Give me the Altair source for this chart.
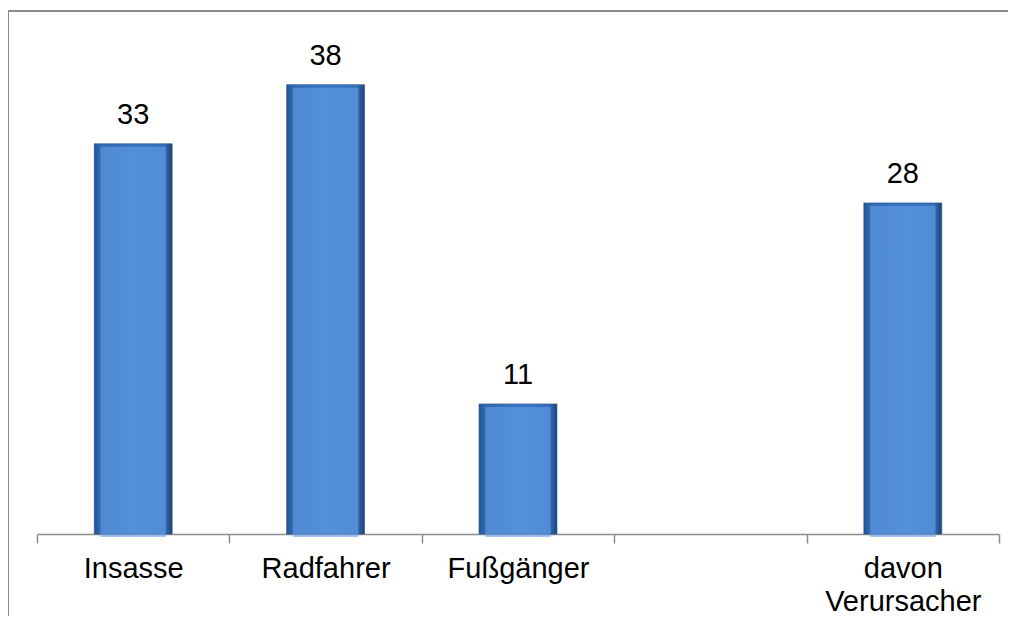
import altair as alt
import pandas as pd

categories = ["Insasse", "Radfahrer", "Fußgänger", " ", "davon Verursacher"]
values = [33, 38, 11, None, 28]

df = pd.DataFrame({"cat": categories, "val": values})

W, H = 962, 473

grad = alt.Gradient(
    gradient="linear", x1=0, x2=1, y1=0, y2=0,
    stops=[
        alt.GradientStop(color="#24528f", offset=0),
        alt.GradientStop(color="#3068b0", offset=0.07),
        alt.GradientStop(color="#3a76c4", offset=0.5),
        alt.GradientStop(color="#356fba", offset=0.9),
        alt.GradientStop(color="#1c4479", offset=1),
    ],
)

xenc = alt.X(
    "cat:N", sort=categories,
    scale=alt.Scale(domain=categories, paddingInner=0, paddingOuter=0),
    axis=alt.Axis(
        title=None, labelAngle=0, tickBand="extent", tickSize=9,
        domainColor="#8c8c8c", tickColor="#8c8c8c", domainWidth=1.5, tickWidth=1.5,
        labelFont="Liberation Sans", labelFontSize=29, labelColor="#000000",
        labelPadding=11, labelLineHeight=33,
        labelExpr="split(datum.label, ' ')",
    ),
)
yenc = alt.Y("val:Q", scale=alt.Scale(domain=[0, 40], nice=False, zero=True), axis=None)

base = alt.Chart(df).transform_filter("isValid(datum.val)")

bars = base.mark_bar(width=alt.RelativeBandSize(0.405), fill=grad, opacity=1,
                     stroke="#234f8a", strokeWidth=0.6).encode(x=xenc, y=yenc)

top = base.mark_bar(width=alt.RelativeBandSize(0.34), height=6, color="#66a0ea",
                    opacity=0.6, yOffset=3).encode(x=xenc, y=yenc)

labels = base.mark_text(font="Liberation Sans", fontSize=29, color="#000000",
                        baseline="bottom", dy=-14).encode(x=xenc, y=yenc, text="val:Q")

frame = alt.Chart(df).mark_rect(fill=None, stroke="#8a8a8a", strokeWidth=2).encode(
    x=alt.value(-29), x2=alt.value(1100), y=alt.value(-50), y2=alt.value(700)
)

chart = alt.layer(frame, bars, top, labels).properties(
    width=W, height=H,
    autosize=alt.AutoSizeParams(type="none"),
    padding={"left": 29, "top": 53, "right": 9, "bottom": 82},
).configure_view(stroke=None)

chart.save("out.html", embed_options={"renderer": "svg", "actions": False})
